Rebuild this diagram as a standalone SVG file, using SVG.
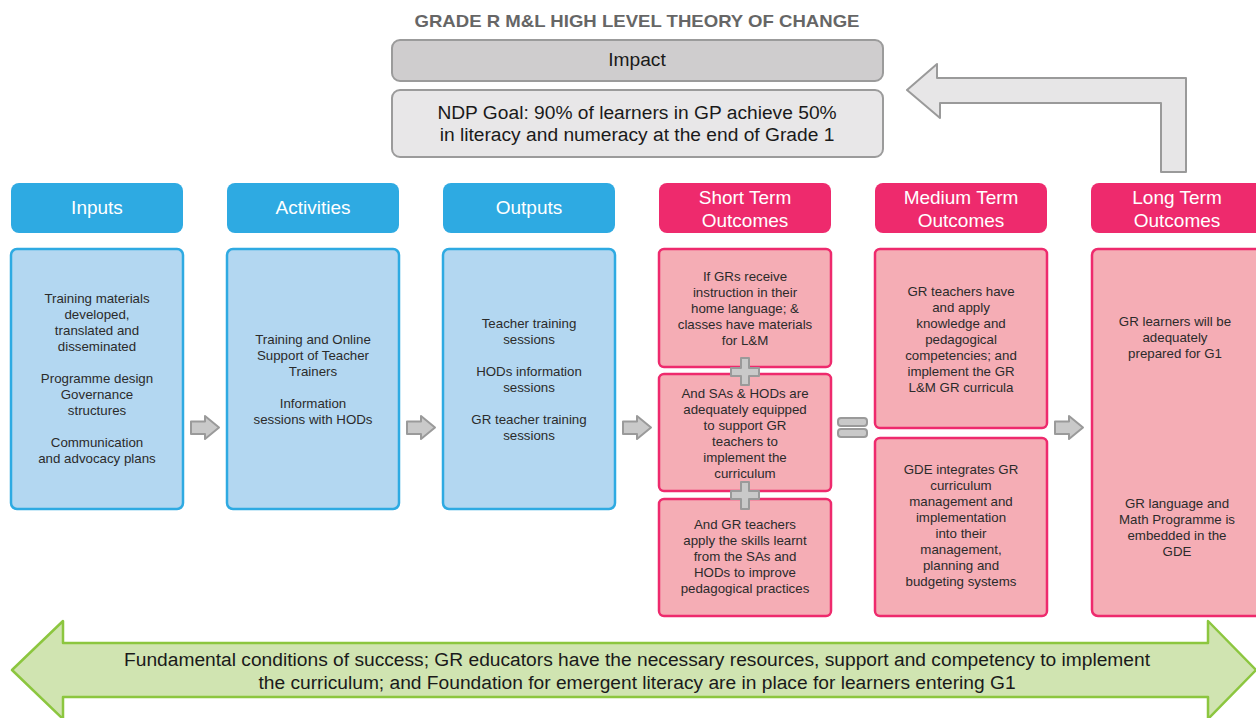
<svg xmlns="http://www.w3.org/2000/svg" width="1256" height="718" viewBox="0 0 1256 718">
  <style>
    text { font-family: "Liberation Sans", Arial, Helvetica, sans-serif; text-anchor: middle; }
    .title { font-size: 17px; font-weight: bold; fill: #666666; }
    .impact-box { fill: #cfcdce; stroke: #9b9b9b; stroke-width: 2; }
    .goal-box { fill: #e8e7e8; stroke: #9b9b9b; stroke-width: 2; }
    .big { font-size: 19.2px; fill: #1a1a1a; }
    .hdr-blue { fill: #2eaae2; }
    .hdr-pink { fill: #ee2a6d; }
    .hdr-text { font-size: 19px; fill: #ffffff; }
    .body-blue { fill: #b3d7f1; stroke: #2eaae2; stroke-width: 2.5; }
    .body-pink { fill: #f5adb5; stroke: #ee2a6d; stroke-width: 2.5; }
    .body-text { font-size: 13.3px; fill: #2b2b2b; }
    .gray-shape { fill: #c9c9c9; stroke: #9a9a9a; stroke-width: 2; stroke-linejoin: round; }
    .return-arrow { fill: #e7e6e7; stroke: #9a9a9a; stroke-width: 2; stroke-linejoin: round; }
    .banner { fill: #d0e4b1; stroke: #8cc63f; stroke-width: 2.5; stroke-linejoin: round; }
    .banner-text { font-size: 19.2px; fill: #1a1a1a; }
  </style>
  <defs>
    <path id="step-arrow" class="gray-shape" d="M0,5.5 H14 V0 L28,11.5 L14,23 V18 H0 Z"/>
  </defs>

  <rect width="1256" height="718" fill="#ffffff"/>

  <text class="title" x="637" y="27" textLength="445" lengthAdjust="spacingAndGlyphs">GRADE R M&amp;L HIGH LEVEL THEORY OF CHANGE</text>

  <!-- Impact -->
  <g id="impact">
    <rect class="impact-box" x="392" y="40" width="491" height="41" rx="8"/>
    <text class="big" x="637" y="66">Impact</text>
  </g>
  <g id="ndp-goal">
    <rect class="goal-box" x="392" y="90" width="491" height="67" rx="8"/>
    <text class="big" x="637" y="119">NDP Goal: 90% of learners in GP achieve 50%</text>
    <text class="big" x="637" y="141">in literacy and numeracy at the end of Grade 1</text>
  </g>

  <!-- Column headers -->
  <g id="hdr-inputs">
    <rect class="hdr-blue" x="11" y="183" width="172" height="50" rx="8"/>
    <text class="hdr-text" x="97" y="214">Inputs</text>
  </g>
  <g id="hdr-activities">
    <rect class="hdr-blue" x="227" y="183" width="172" height="50" rx="8"/>
    <text class="hdr-text" x="313" y="214">Activities</text>
  </g>
  <g id="hdr-outputs">
    <rect class="hdr-blue" x="443" y="183" width="172" height="50" rx="8"/>
    <text class="hdr-text" x="529" y="214">Outputs</text>
  </g>
  <g id="hdr-short">
    <rect class="hdr-pink" x="659" y="183" width="172" height="50" rx="8"/>
    <text class="hdr-text" x="745" y="204">Short Term</text>
    <text class="hdr-text" x="745" y="227">Outcomes</text>
  </g>
  <g id="hdr-medium">
    <rect class="hdr-pink" x="875" y="183" width="172" height="50" rx="8"/>
    <text class="hdr-text" x="961" y="204">Medium Term</text>
    <text class="hdr-text" x="961" y="227">Outcomes</text>
  </g>
  <g id="hdr-long">
    <rect class="hdr-pink" x="1091" y="183" width="172" height="50" rx="8"/>
    <text class="hdr-text" x="1177" y="204">Long Term</text>
    <text class="hdr-text" x="1177" y="227">Outcomes</text>
  </g>

  <!-- Inputs / Activities / Outputs -->
  <g id="inputs">
    <rect class="body-blue" x="11" y="249" width="172" height="260" rx="6"/>
    <text class="body-text" x="97" y="303">Training materials</text>
    <text class="body-text" x="97" y="319">developed,</text>
    <text class="body-text" x="97" y="335">translated and</text>
    <text class="body-text" x="97" y="351">disseminated</text>
    <text class="body-text" x="97" y="383">Programme design</text>
    <text class="body-text" x="97" y="399">Governance</text>
    <text class="body-text" x="97" y="415">structures</text>
    <text class="body-text" x="97" y="447">Communication</text>
    <text class="body-text" x="97" y="463">and advocacy plans</text>
  </g>
  <g id="activities">
    <rect class="body-blue" x="227" y="249" width="172" height="260" rx="6"/>
    <text class="body-text" x="313" y="344">Training and Online</text>
    <text class="body-text" x="313" y="360">Support of Teacher</text>
    <text class="body-text" x="313" y="376">Trainers</text>
    <text class="body-text" x="313" y="408">Information</text>
    <text class="body-text" x="313" y="424">sessions with HODs</text>
  </g>
  <g id="outputs">
    <rect class="body-blue" x="443" y="249" width="172" height="260" rx="6"/>
    <text class="body-text" x="529" y="328">Teacher training</text>
    <text class="body-text" x="529" y="344">sessions</text>
    <text class="body-text" x="529" y="376">HODs information</text>
    <text class="body-text" x="529" y="392">sessions</text>
    <text class="body-text" x="529" y="424">GR teacher training</text>
    <text class="body-text" x="529" y="440">sessions</text>
  </g>

  <!-- Short term outcomes -->
  <g id="short-1">
    <rect class="body-pink" x="659" y="249" width="172" height="118" rx="5"/>
    <text class="body-text" x="745" y="281">If GRs receive</text>
    <text class="body-text" x="745" y="297">instruction in their</text>
    <text class="body-text" x="745" y="313">home language; &amp;</text>
    <text class="body-text" x="745" y="329">classes have materials</text>
    <text class="body-text" x="745" y="345">for L&amp;M</text>
  </g>
  <g id="short-2">
    <rect class="body-pink" x="659" y="374" width="172" height="117" rx="5"/>
    <text class="body-text" x="745" y="398">And SAs &amp; HODs are</text>
    <text class="body-text" x="745" y="414">adequately equipped</text>
    <text class="body-text" x="745" y="430">to support GR</text>
    <text class="body-text" x="745" y="446">teachers to</text>
    <text class="body-text" x="745" y="462">implement the</text>
    <text class="body-text" x="745" y="478">curriculum</text>
  </g>
  <g id="short-3">
    <rect class="body-pink" x="659" y="499" width="172" height="117" rx="5"/>
    <text class="body-text" x="745" y="529">And GR teachers</text>
    <text class="body-text" x="745" y="545">apply the skills learnt</text>
    <text class="body-text" x="745" y="561">from the SAs and</text>
    <text class="body-text" x="745" y="577">HODs to improve</text>
    <text class="body-text" x="745" y="593">pedagogical practices</text>
  </g>

  <!-- Medium term outcomes -->
  <g id="medium-1">
    <rect class="body-pink" x="875" y="249" width="172" height="179" rx="5"/>
    <text class="body-text" x="961" y="296">GR teachers have</text>
    <text class="body-text" x="961" y="312">and apply</text>
    <text class="body-text" x="961" y="328">knowledge and</text>
    <text class="body-text" x="961" y="344">pedagogical</text>
    <text class="body-text" x="961" y="360">competencies; and</text>
    <text class="body-text" x="961" y="376">implement the GR</text>
    <text class="body-text" x="961" y="392">L&amp;M GR curricula</text>
  </g>
  <g id="medium-2">
    <rect class="body-pink" x="875" y="438" width="172" height="178" rx="5"/>
    <text class="body-text" x="961" y="474">GDE integrates GR</text>
    <text class="body-text" x="961" y="490">curriculum</text>
    <text class="body-text" x="961" y="506">management and</text>
    <text class="body-text" x="961" y="522">implementation</text>
    <text class="body-text" x="961" y="538">into their</text>
    <text class="body-text" x="961" y="554">management,</text>
    <text class="body-text" x="961" y="570">planning and</text>
    <text class="body-text" x="961" y="586">budgeting systems</text>
  </g>

  <!-- Long term outcomes -->
  <g id="long">
    <rect class="body-pink" x="1092" y="249" width="172" height="367" rx="6"/>
    <text class="body-text" x="1175" y="326">GR learners will be</text>
    <text class="body-text" x="1175" y="342">adequately</text>
    <text class="body-text" x="1175" y="358">prepared for G1</text>
    <text class="body-text" x="1177" y="508">GR language and</text>
    <text class="body-text" x="1177" y="524">Math Programme is</text>
    <text class="body-text" x="1177" y="540">embedded in the</text>
    <text class="body-text" x="1177" y="556">GDE</text>
  </g>

  <!-- Connectors -->
  <g id="connectors">
    <use href="#step-arrow" x="191" y="416"/>
    <use href="#step-arrow" x="407" y="416"/>
    <use href="#step-arrow" x="623" y="416"/>
    <use href="#step-arrow" x="1055" y="416"/>

    <!-- plus signs joining short term outcomes -->
    <path class="gray-shape" d="M741,358 H749 V368 H759 V376 H749 V385 H741 V376 H731 V368 H741 Z"/>
    <path class="gray-shape" d="M741,482 H749 V491 H759 V499 H749 V509 H741 V499 H731 V491 H741 Z"/>

    <!-- equals sign -->
    <rect class="gray-shape" x="838" y="418" width="29" height="8" rx="3"/>
    <rect class="gray-shape" x="838" y="429" width="29" height="8" rx="3"/>

    <!-- return arrow from long term outcomes to impact -->
    <path class="return-arrow" d="M1161,172 V103 H940 V118 L907,90 L937,64 V78 H1186 V172 Z"/>
  </g>

  <!-- Foundation banner -->
  <g id="foundation">
    <path class="banner" d="M12,670 L63,621 V643 H1208 V621 L1256,670 L1208,719 V697 H63 V719 Z"/>
    <text class="banner-text" x="637" y="666">Fundamental conditions of success; GR educators have the necessary resources, support and competency to implement</text>
    <text class="banner-text" x="637" y="689">the curriculum; and Foundation for emergent literacy are in place for learners entering G1</text>
  </g>
</svg>
